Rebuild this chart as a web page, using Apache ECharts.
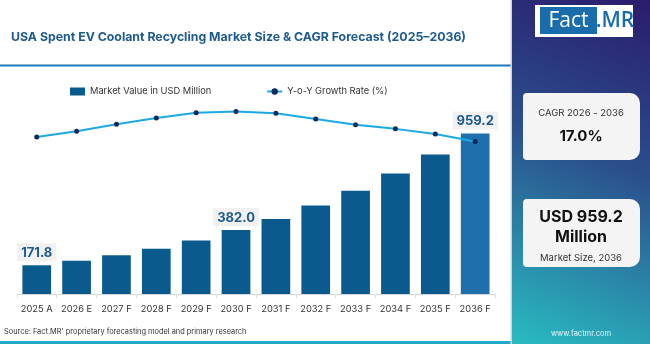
<!DOCTYPE html>
<html><head><meta charset="utf-8">
<script src="https://cdn.jsdelivr.net/npm/echarts@6/dist/echarts.min.js"></script>
<style>html,body{margin:0;padding:0;background:#fff}#c{width:650px;height:344px}</style>
</head><body><div id="c"></div>
<script>
const categories = ['2025 A','2026 E','2027 F','2028 F','2029 F','2030 F','2031 F','2032 F','2033 F','2034 F','2035 F','2036 F'];
const marketValue = [171.8, 199.0, 231.0, 270.0, 320.0, 382.0, 448.0, 529.0, 617.0, 720.0, 834.0, 959.2];
const yoyGrowth = [14.0, 15.0, 16.2, 17.3, 18.2, 18.4, 18.1, 17.1, 16.1, 15.4, 14.5, 13.2];
const labelIdx = [0, 5, 11];
const FONT = 'Inter, "Open Sans", sans-serif';

const chart = echarts.init(document.getElementById('c'), null, {renderer:'canvas'});
const barData = marketValue.map((v,i)=>({
  value:v,
  itemStyle:{color: i===11 ? '#1f6fac' : '#0b5a8e'},
  label:{show: labelIdx.includes(i)}
}));
chart.setOption({
  animation:false,
  textStyle:{fontFamily:FONT},
  title:{text:'USA Spent EV Coolant Recycling Market Size & CAGR Forecast (2025–2036)',left:6,top:26,
    textStyle:{fontFamily:FONT,fontSize:12.3,fontWeight:700,color:'#1d5b8e'}},
  legend:{left:65,top:82,itemWidth:15,itemHeight:8,itemGap:55,
    textStyle:{fontFamily:FONT,fontSize:9.3,color:'#333'},
    data:[{name:'Market Value in USD Million',icon:'rect'},{name:'Y-o-Y Growth Rate (%)'}]},
  grid:{left:16.8,right:154.9,top:100,bottom:50,containLabel:false},
  xAxis:{type:'category',data:categories,
    axisLine:{lineStyle:{color:'#d8d8d8'}},
    axisTick:{show:true,length:4,lineStyle:{color:'#e0e0e0'}},
    axisLabel:{fontFamily:FONT,fontSize:9.3,color:'#333',margin:11,interval:0}},
  yAxis:[{type:'value',min:0,max:1160,show:false,splitLine:{show:false}},
         {type:'value',min:-13.2,max:20.4,show:false,splitLine:{show:false}}],
  series:[
    {name:'Market Value in USD Million',type:'bar',data:barData,barWidth:'72%',itemStyle:{color:'#0b5a8e'},
     label:{position:'top',distance:4,fontFamily:FONT,fontSize:13,fontWeight:700,color:'#1d5b8e',
       backgroundColor:'#f1f1f1',padding:[3,4,2,4],formatter:p=>p.value.toFixed(1)}},
    {name:'Y-o-Y Growth Rate (%)',type:'line',yAxisIndex:1,data:yoyGrowth,
     lineStyle:{color:'#1aa9e0',width:2},itemStyle:{color:'#0a2a5e'},
     symbol:'circle',symbolSize:5,z:5}
  ],
  graphic:[
    {type:'rect',shape:{x:0,y:64.5,width:512,height:2},style:{fill:'#1f78b8'},silent:true},
    {type:'rect',shape:{x:0,y:341,width:512,height:3},style:{fill:'#22a9c6'},silent:true},
    {type:'text',left:4,top:328,style:{text:"Source: Fact.MR' proprietary forecasting model and primary research",
      fontFamily:FONT,fontSize:7.4,fill:'#333'}},
    {type:'rect',shape:{x:511,y:0,width:139,height:344},silent:true,
      style:{fill:new echarts.graphic.LinearGradient(1,0,0,1,[
        {offset:0,color:'#2a1c6c'},{offset:0.45,color:'#2b4f8c'},{offset:1,color:'#29bcc2'}])}},
    {type:'rect',shape:{x:510.5,y:0,width:1.5,height:344},style:{fill:'#cfd3dc'},silent:true},
    {type:'rect',shape:{x:535,y:5,width:98,height:32},style:{fill:'#ffffff'},silent:true},
    {type:'rect',shape:{x:540,y:7,width:57,height:27},style:{fill:'#1a6dad'},silent:true},
    {type:'text',x:568.5,y:21,style:{text:'Fact',fontFamily:'"Open Sans", sans-serif',fontSize:21,fill:'#fff',
      textAlign:'center',textVerticalAlign:'middle'}},
    {type:'text',x:615,y:21,style:{text:'.MR',fontFamily:'"Open Sans", sans-serif',fontSize:21,fontWeight:600,fill:'#1a6dad',
      textAlign:'center',textVerticalAlign:'middle'}},
    {type:'rect',shape:{x:523,y:93,width:117,height:67,r:[4,10,10,4]},style:{fill:'#f4f4f4'},silent:true},
    {type:'text',x:581,y:113.5,style:{text:'CAGR 2026 - 2036',fontFamily:FONT,fontSize:9.5,fill:'#333',
      textAlign:'center',textVerticalAlign:'middle'}},
    {type:'text',x:581,y:136.5,style:{text:'17.0%',fontFamily:FONT,fontSize:15,fontWeight:700,fill:'#111',
      textAlign:'center',textVerticalAlign:'middle'}},
    {type:'rect',shape:{x:523,y:199,width:117,height:68,r:[4,10,10,4]},style:{fill:'#f4f4f4'},silent:true},
    {type:'text',x:581,y:217,style:{text:'USD 959.2',fontFamily:FONT,fontSize:16,fontWeight:700,fill:'#111',
      textAlign:'center',textVerticalAlign:'middle'}},
    {type:'text',x:581,y:237,style:{text:'Million',fontFamily:FONT,fontSize:16,fontWeight:700,fill:'#111',
      textAlign:'center',textVerticalAlign:'middle'}},
    {type:'text',x:581,y:258,style:{text:'Market Size, 2036',fontFamily:FONT,fontSize:9.5,fill:'#333',
      textAlign:'center',textVerticalAlign:'middle'}},
    {type:'text',x:581,y:334,style:{text:'www.factmr.com',fontFamily:FONT,fontSize:7.5,fill:'#e8f4f8',
      textAlign:'center',textVerticalAlign:'middle'}}
  ]
});
</script></body></html>
